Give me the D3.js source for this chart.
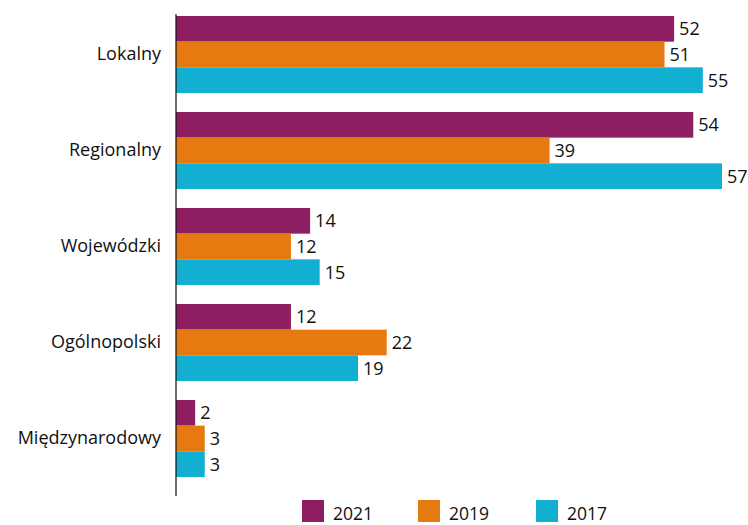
<!DOCTYPE html>
<html>
<head>
<meta charset="utf-8">
<script src="https://cdn.jsdelivr.net/npm/d3@7"></script>
<style>
  html, body { margin: 0; padding: 0; background: #fff; }
  svg text { font-family: "Open Sans", "Noto Sans", sans-serif; fill: #111; }
</style>
</head>
<body>
<svg id="chart" width="748" height="525"></svg>
<script>
// Zasięg działalności – odsetek wskazań w kolejnych edycjach badania
const categories = ["Lokalny", "Regionalny", "Wojewódzki", "Ogólnopolski", "Międzynarodowy"];
const seriesNames = ["2021", "2019", "2017"];
const values2021 = [52, 54, 14, 12, 2];
const values2019 = [51, 39, 12, 22, 3];
const values2017 = [55, 57, 15, 19, 3];
const seriesColors = ["#8e1e62", "#e67a10", "#13afd3"];

const seriesValues = [values2021, values2019, values2017];

const svg = d3.select("#chart");
const fontSize = 18;

const x = d3.scaleLinear().domain([0, 57]).range([176, 722]);

const y = d3.scaleBand()
  .domain(categories)
  .range([6.5, 486.5])
  .paddingInner(0.198)
  .paddingOuter(0.099);

const ySub = d3.scaleBand()
  .domain(seriesNames)
  .range([0, y.bandwidth()]);

const groups = svg.append("g")
  .selectAll("g")
  .data(categories)
  .join("g")
  .attr("transform", c => `translate(0,${y(c)})`);

groups.each(function(cat, ci) {
  const g = d3.select(this);
  const rows = seriesNames.map((s, si) => ({ s, si, v: seriesValues[si][ci] }));

  g.selectAll("rect")
    .data(rows)
    .join("rect")
    .attr("x", x(0))
    .attr("y", d => ySub(d.s))
    .attr("width", d => x(d.v) - x(0))
    .attr("height", ySub.bandwidth())
    .attr("fill", d => seriesColors[d.si]);

  g.selectAll("text.value")
    .data(rows)
    .join("text")
    .attr("class", "value")
    .attr("x", d => x(d.v) + 5)
    .attr("y", d => ySub(d.s) + ySub.bandwidth() / 2)
    .attr("dy", "0.36em")
    .attr("font-size", fontSize)
    .text(d => d.v);
});

// Category axis on the left, drawn without ticks
const yAxis = d3.axisLeft(y).tickSize(0).tickPadding(15);
const axisG = svg.append("g")
  .attr("transform", `translate(${x(0)},0)`)
  .call(yAxis);
axisG.select(".domain").remove();
axisG.selectAll("text")
  .attr("font-size", fontSize)
  .attr("font-family", null)
  .attr("fill", "#111");

svg.append("line")
  .attr("x1", x(0)).attr("x2", x(0))
  .attr("y1", 14).attr("y2", 496)
  .attr("stroke", "#111")
  .attr("stroke-width", 1.2);

// Legend
const legendX = [302, 418, 536];
const legend = svg.append("g")
  .selectAll("g")
  .data(seriesNames)
  .join("g")
  .attr("transform", (d, i) => `translate(${legendX[i]},500)`);

legend.append("rect")
  .attr("width", 22)
  .attr("height", 22)
  .attr("fill", (d, i) => seriesColors[i]);

legend.append("text")
  .attr("x", 31)
  .attr("y", 19.5)
  .attr("font-size", 17.5)
  .text(d => d);
</script>
</body>
</html>
